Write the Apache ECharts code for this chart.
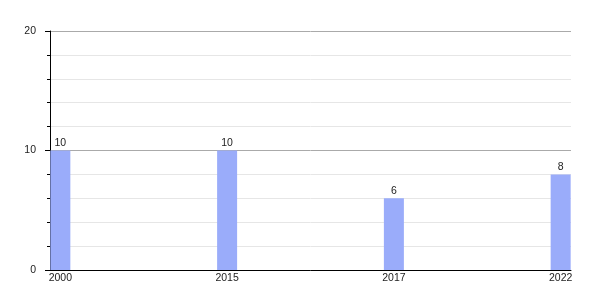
<!DOCTYPE html>
<html><head><meta charset="utf-8">
<script src="https://cdn.jsdelivr.net/npm/echarts@6/dist/echarts.min.js"></script>
<style>html,body{margin:0;padding:0;background:#fff}#c{width:600px;height:300px}</style>
</head><body><div id="c"></div>
<script>
var categories = ['2000', '2015', '2017', '2022'];
var values = [10, 10, 6, 8];
var yTicks = [0, 10, 20];

var chart = echarts.init(document.getElementById('c'), null, {renderer: 'canvas'});
var font = 'Liberation Sans, Arial, sans-serif';
chart.setOption({
  animation: false,
  grid: {left: 50, right: 29, top: 31, bottom: 30},
  xAxis: {
    type: 'value',
    min: -0.062, max: 3.062,
    axisLine: {show: true, onZero: false, lineStyle: {color: '#000', width: 1}},
    axisTick: {show: false},
    splitLine: {show: false},
    axisLabel: {
      customValues: categories.map(function (c, i) { return i; }),
      formatter: function (v) { return categories[Math.round(v)]; },
      color: '#222', fontFamily: font, fontSize: 10.5, margin: 3
    }
  },
  yAxis: {
    type: 'value', min: yTicks[0], max: yTicks[yTicks.length - 1], interval: 10,
    axisLine: {show: true, onZero: false, lineStyle: {color: '#000', width: 1}},
    axisTick: {show: true, length: 5, lineStyle: {color: '#000'}},
    minorTick: {show: true, splitNumber: 5, length: 3, lineStyle: {color: '#000'}},
    splitLine: {show: true, lineStyle: {color: '#aaaaaa', width: 1}},
    minorSplitLine: {show: true, lineStyle: {color: '#e6e6e6', width: 1}},
    axisLabel: {color: '#222', fontFamily: font, fontSize: 10.5, margin: 14}
  },
  series: [{
    type: 'bar',
    data: values.map(function (v, i) { return [i, v]; }),
    barWidth: 20,
    itemStyle: {color: '#9aacfa'},
    label: {show: true, position: 'top', distance: 2, color: '#222', fontFamily: font, fontSize: 10.5}
  }]
});
</script></body></html>
